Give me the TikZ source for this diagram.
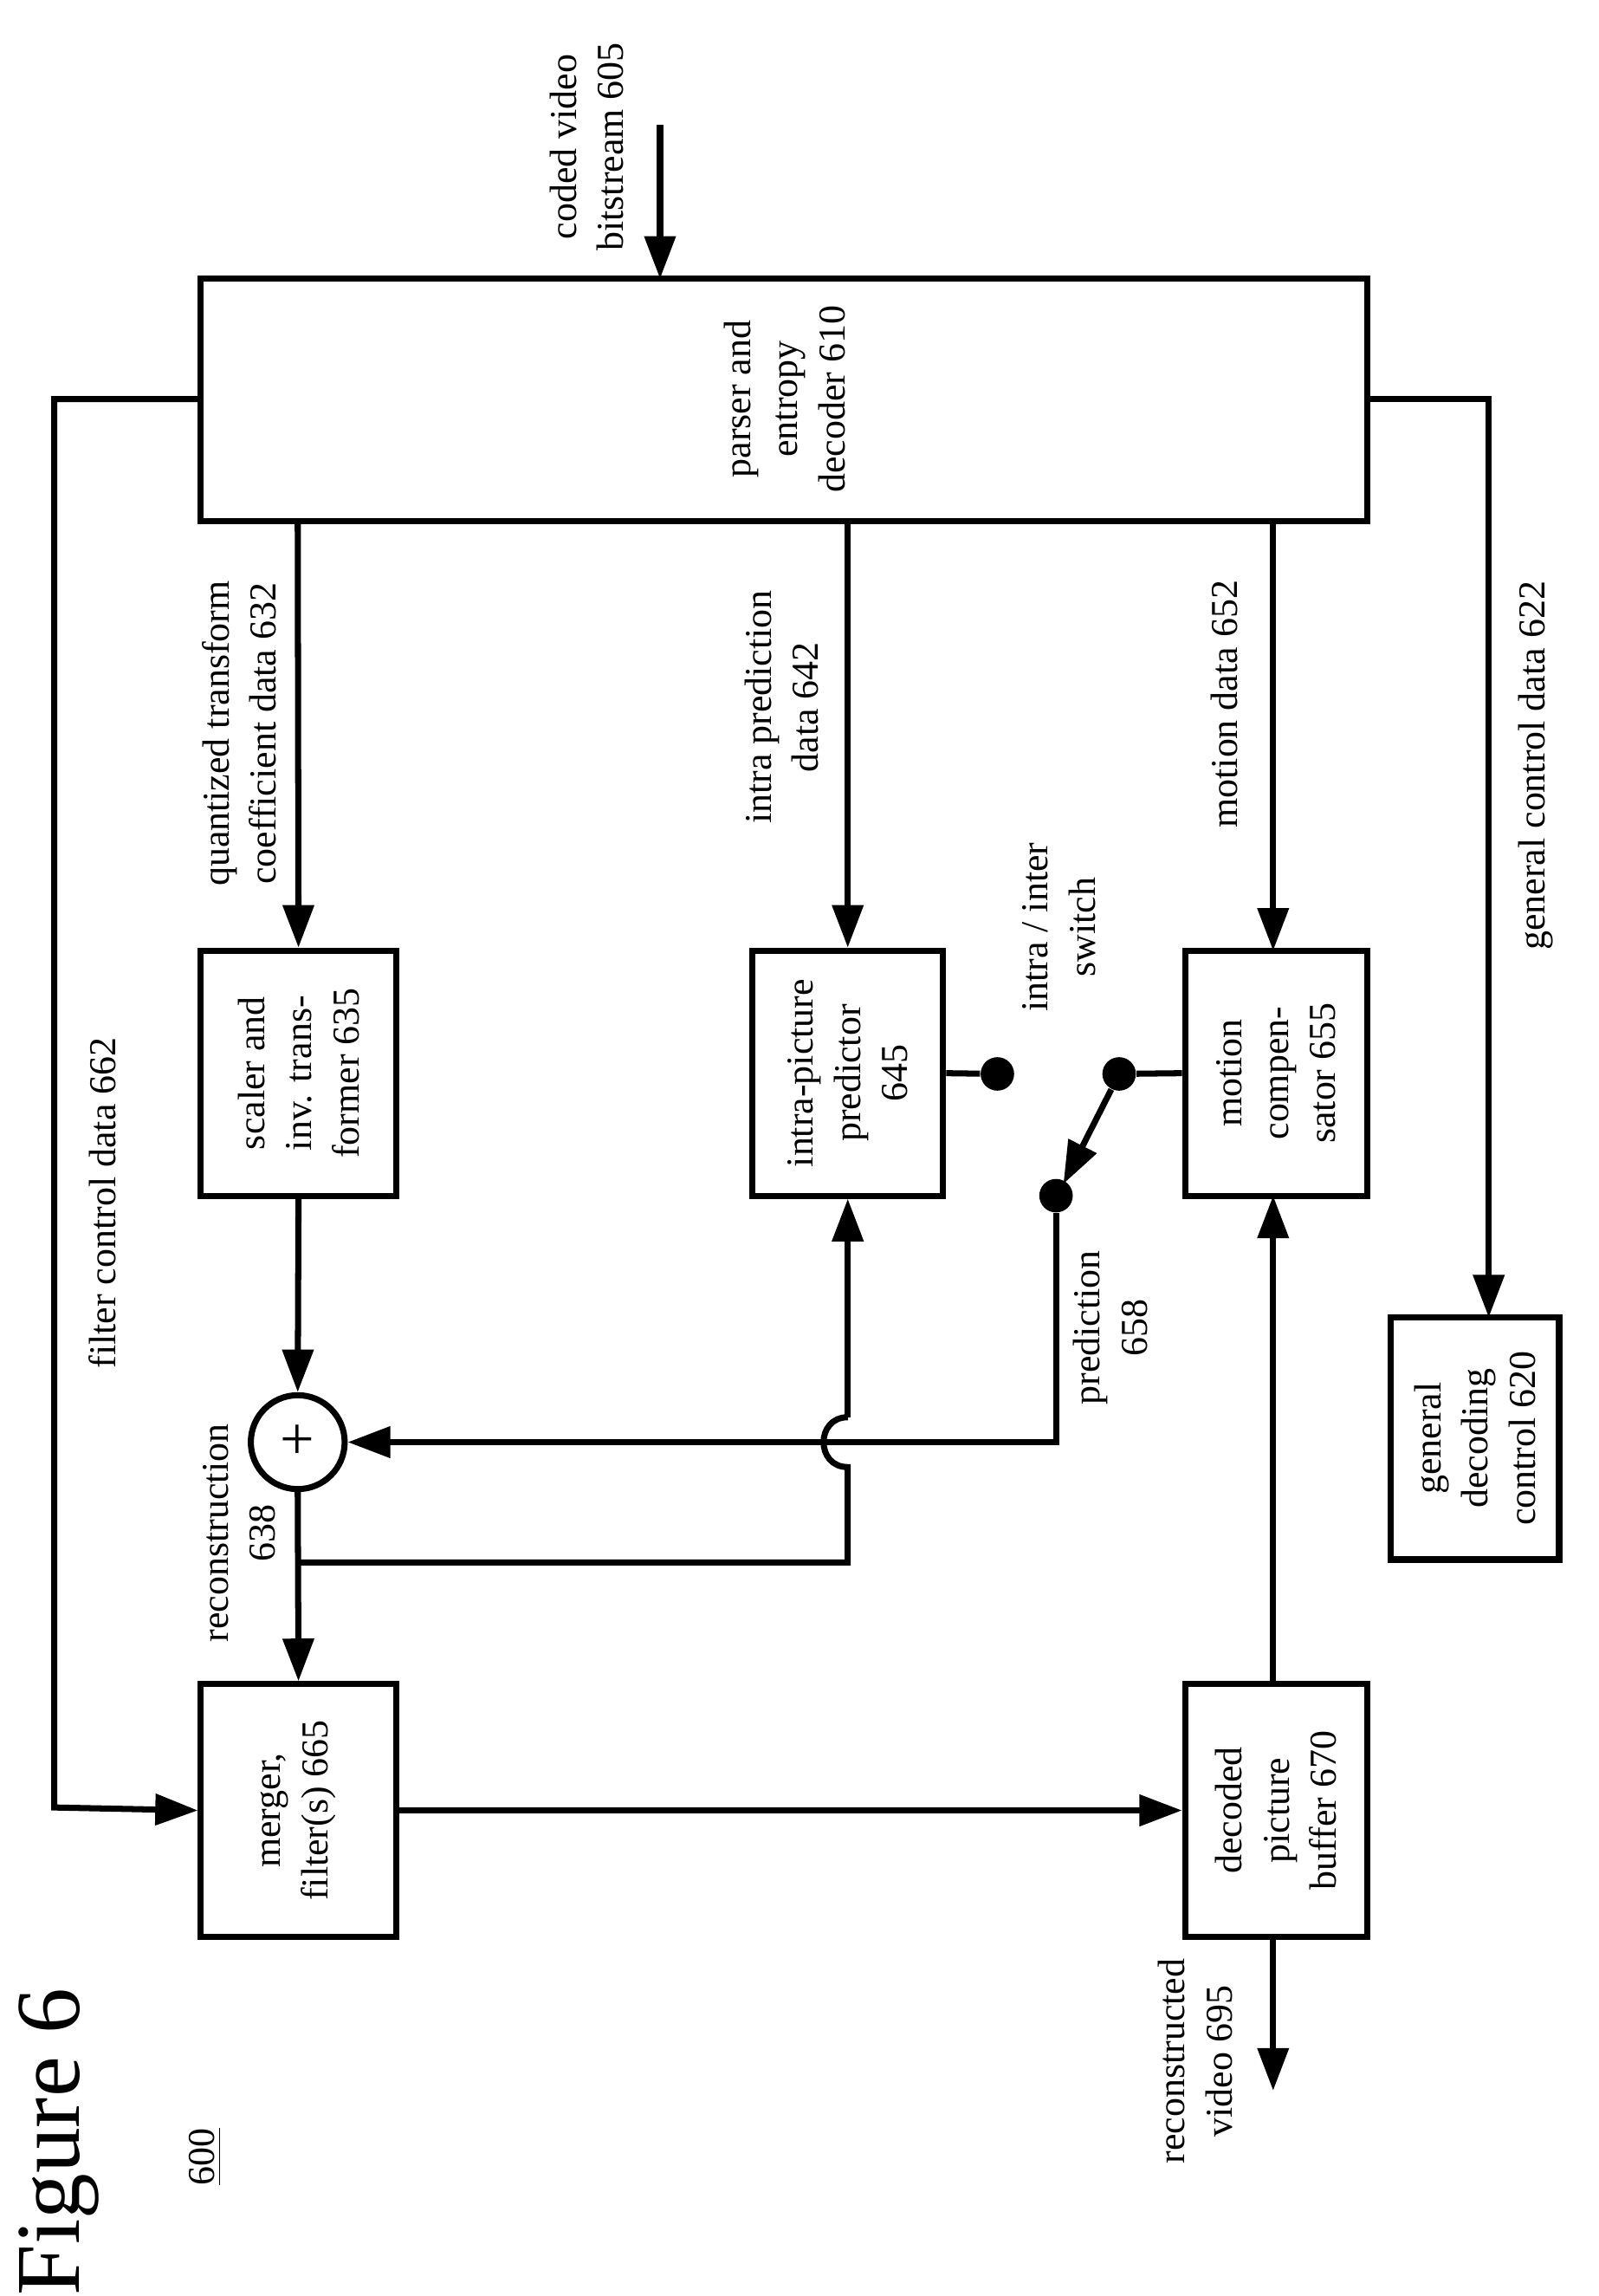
\documentclass[tikz,border=0pt]{standalone}
\usepackage{fontspec}
\setmainfont{Liberation Serif}
\usetikzlibrary{arrows.meta}
\begin{document}
\begin{tikzpicture}[x=0.01693cm,y=-0.01693cm,
  box/.style={draw,line width=2pt,inner sep=0pt},
  lab/.style={rotate=90,align=center,font=\fontsize{12.5}{15.5}\selectfont,inner sep=1pt},
  ln/.style={line width=2pt},
  ar/.style={line width=2pt,-{Triangle[length=14pt,width=10pt]}},
  dot/.style={circle,fill=black,inner sep=0pt,minimum size=11pt}]
\useasboundingbox (0,0) rectangle (1090,1565);
% boxes
\node[box,minimum width=795*0.01693cm,minimum height=165*0.01693cm] (par) at (534.5,272.5) {};
\node[lab] (tpar) at (535,272) {parser and\\entropy\\decoder 610};
\node[box,minimum width=133*0.01693cm,minimum height=167*0.01693cm] (sca) at (203.5,731.5) {};
\node[lab] (tsca) at (sca) {scaler and\\inv. trans-\\former 635};
\node[box,minimum width=130*0.01693cm,minimum height=167*0.01693cm] (ipp) at (578,731.5) {};
\node[lab] (tipp) at (ipp) {intra-picture\\predictor\\645};
\node[box,minimum width=124*0.01693cm,minimum height=167*0.01693cm] (mc) at (870,731.5) {};
\node[lab] (tmc) at (mc) {motion\\compen-\\sator 655};
\node[box,minimum width=115*0.01693cm,minimum height=165*0.01693cm] (gdc) at (1005.5,980.5) {};
\node[lab] (tgdc) at (gdc) {general\\decoding\\control 620};
\node[box,minimum width=133*0.01693cm,minimum height=172*0.01693cm] (mer) at (203.5,1234) {};
\node[lab] (tmer) at (mer) {merger,\\filter(s) 665};
\node[box,minimum width=124*0.01693cm,minimum height=172*0.01693cm] (dpb) at (870,1234) {};
\node[lab] (tdpb) at (dpb) {decoded\\picture\\buffer 670};
\node[draw,circle,line width=2pt,minimum size=64*0.01693cm,inner sep=0pt,font=\fontsize{20}{20}\selectfont] (add) at (203,983) {+};
% input
\coordinate (in) at (450,85);
\draw[ar] (in) -- (450,190);
\node[lab] at (400,100) {coded video\\bitstream 605};
% parser outputs
\draw[ar] (203,355) -- (sca.north);
\node[lab] at (163,500) {quantized transform\\coefficient data 632};
\draw[ar] (578,355) -- (ipp.north);
\node[lab] at (533,482) {intra prediction\\data 642};
\draw[ar] (868,355) -- (868,648);
\node[lab] at (835,480) {motion data 652};
\draw[ar] (932,272) -- (1015,272) -- (1015,898);
\node[lab] at (1047,522) {general control data 622};
\draw[ar] (137,272) -- (37,272) -- (37,1232) -- (mer.west);
\node[lab] at (70,820) {filter control data 662};
% reconstruction
\draw[ar] (sca.south) -- (add.north);
\draw[ar] (add.south) -- (mer.north);
\draw[ln] (203,1065) -- (578,1065) -- (578,1000) .. controls (556,1000) and (556,966) .. (578,966);
\draw[ar] (578,966) -- (ipp.south);
\node[lab] at (163,1045) {reconstruction\\638};
% switch
\node[dot] (s1) at (680,732) {};
\node[dot] (s2) at (763,732) {};
\node[dot] (s3) at (720,815) {};
\draw[ln] (ipp.east) -- (s1);
\draw[ln] (s2) -- (mc.west);
\draw[ar] (s2) -- (725,807);
\node[lab] at (722,632) {intra / inter\\switch};
\draw[ar] (s3) -- (720,983) -- (add.east);
\node[lab] at (757,905) {prediction\\658};
% merger / dpb
\draw[ar] (mer.east) -- (dpb.west);
\draw[ar] (868,1148) -- (868,815);
\coordinate (out) at (868,1425);
\draw[ar] (868,1320) -- (out);
\node[lab] at (815,1405) {reconstructed\\video 695};
\node[rotate=90,font=\fontsize{30}{30}\selectfont] at (40,1460) {Figure 6};
\node[rotate=90,font=\fontsize{12.5}{13}\selectfont] at (140,1470) {\underline{600}};
\end{tikzpicture}
\end{document}
